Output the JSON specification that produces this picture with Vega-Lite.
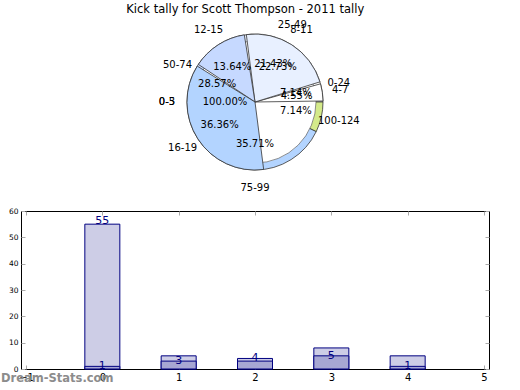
{
  "$schema": "https://vega.github.io/schema/vega-lite/v6.json",
  "background": "white",
  "padding": {"left": 0, "right": 0, "top": 4, "bottom": 0},
  "bounds": "flush",
  "title": {"text": "Kick tally for Scott Thompson - 2011 tally", "fontSize": 11.5, "font": "DejaVu Sans", "fontWeight": "normal", "color": "black", "anchor": "middle", "offset": 4},
  "config": {"view": {"stroke": null}, "font": "DejaVu Sans"},
  "datasets": {
    "set2": [
      {"i": 0, "label": "0-24", "n": 1, "pct": "7.14%"},
      {"i": 1, "label": "25-49", "n": 3, "pct": "21.43%"},
      {"i": 2, "label": "50-74", "n": 4, "pct": "28.57%"},
      {"i": 3, "label": "75-99", "n": 5, "pct": "35.71%"},
      {"i": 4, "label": "100-124", "n": 1, "pct": "7.14%"}
    ],
    "set1": [
      {"i": 0, "label": "4-7", "n": 1, "pct": "4.55%"},
      {"i": 1, "label": "8-11", "n": 5, "pct": "22.73%"},
      {"i": 2, "label": "12-15", "n": 3, "pct": "13.64%"},
      {"i": 3, "label": "16-19", "n": 8, "pct": "36.36%"}
    ],
    "set3": [
      {"label": "0-5", "n": 1, "pct": "100.00%"},
      {"label": "0-3", "n": 1, "pct": "100.00%"}
    ],
    "bars": [
      {"x": 0, "light": 55, "dark": 1, "lab": 1},
      {"x": 1, "light": 5, "dark": 3, "lab": 3},
      {"x": 2, "light": 4, "dark": 3, "lab": 4},
      {"x": 3, "light": 8, "dark": 5, "lab": 5},
      {"x": 4, "light": 5, "dark": 1, "lab": 1}
    ]
  },
  "spacing": 30,
  "vconcat": [
    {
      "width": 468,
      "height": 158,
      "layer": [
        {
          "data": {"name": "set2"},
          "mark": {"type": "arc", "outerRadius": 68, "stroke": "#333333", "strokeWidth": 0.8},
          "encoding": {
            "theta": {"field": "n", "type": "quantitative", "stack": true, "scale": {"domain": [0, 14], "range": [1.5708, -4.7124]}},
            "order": {"field": "i", "type": "quantitative"},
            "color": {"field": "label", "type": "nominal", "legend": null,
              "scale": {"domain": ["0-24", "25-49", "50-74", "75-99", "100-124"], "range": ["#ffffff", "#e8f0ff", "#c6d9ff", "#b3d4ff", "#d4ea8a"]}}
          }
        },
        {
          "data": {"name": "set3"},
          "transform": [{"filter": "datum.label == '0-5'"}],
          "mark": {"type": "arc", "outerRadius": 61, "fill": "#ffffff", "stroke": "#444444", "strokeWidth": 0.6},
          "encoding": {
            "theta": {"field": "n", "type": "quantitative", "stack": true, "scale": {"domain": [0, 1], "range": [1.5708, -4.7124]}}
          }
        },
        {
          "data": {"name": "set1"},
          "mark": {"type": "arc", "outerRadius": 68, "stroke": "#333333", "strokeWidth": 0.8, "padAngle": 0.03},
          "encoding": {
            "theta": {"field": "n", "type": "quantitative", "stack": true, "scale": {"domain": [0, 22], "range": [1.5708, -4.7124]}},
            "order": {"field": "i", "type": "quantitative"},
            "color": {"field": "label", "type": "nominal", "legend": null,
              "scale": {"domain": ["4-7", "8-11", "12-15", "16-19"], "range": ["#ffffff", "#e8f0ff", "#c6d9ff", "#b3d4ff"]}}
          }
        },
        {
          "data": {"name": "set2"},
          "mark": {"type": "text", "radius": 86, "fontSize": 10, "color": "black"},
          "encoding": {
            "theta": {"field": "n", "type": "quantitative", "stack": true, "scale": {"domain": [0, 14], "range": [1.5708, -4.7124]}},
            "order": {"field": "i", "type": "quantitative"},
            "text": {"field": "label"}
          }
        },
        {
          "data": {"name": "set2"},
          "mark": {"type": "text", "radius": 42, "fontSize": 10, "color": "black"},
          "encoding": {
            "theta": {"field": "n", "type": "quantitative", "stack": true, "scale": {"domain": [0, 14], "range": [1.5708, -4.7124]}},
            "order": {"field": "i", "type": "quantitative"},
            "text": {"field": "pct"}
          }
        },
        {
          "data": {"name": "set1"},
          "mark": {"type": "text", "radius": 86, "fontSize": 10, "color": "black"},
          "encoding": {
            "theta": {"field": "n", "type": "quantitative", "stack": true, "scale": {"domain": [0, 22], "range": [1.5708, -4.7124]}},
            "order": {"field": "i", "type": "quantitative"},
            "text": {"field": "label"}
          }
        },
        {
          "data": {"name": "set1"},
          "mark": {"type": "text", "radius": 42, "fontSize": 10, "color": "black"},
          "encoding": {
            "theta": {"field": "n", "type": "quantitative", "stack": true, "scale": {"domain": [0, 22], "range": [1.5708, -4.7124]}},
            "order": {"field": "i", "type": "quantitative"},
            "text": {"field": "pct"}
          }
        },
        {
          "data": {"name": "set3"},
          "mark": {"type": "text", "radius": 88, "fontSize": 10, "color": "black"},
          "encoding": {
            "theta": {"datum": 0.5, "type": "quantitative", "scale": {"domain": [0, 1], "range": [1.5708, -4.7124]}},
            "text": {"field": "label"}
          }
        },
        {
          "data": {"name": "set3"},
          "transform": [{"filter": "datum.label == '0-5'"}],
          "mark": {"type": "text", "radius": 30, "fontSize": 10, "color": "black"},
          "encoding": {
            "theta": {"datum": 0.5, "type": "quantitative", "scale": {"domain": [0, 1], "range": [1.5708, -4.7124]}},
            "text": {"field": "pct"}
          }
        }
      ],
      "resolve": {"scale": {"theta": "independent", "color": "independent"}}
    },
    {
      "width": 468,
      "height": 158,
      "view": {"stroke": "black", "strokeWidth": 1},
      "data": {"name": "bars"},
      "layer": [
        {
          "mark": {"type": "bar", "size": 35, "fill": "#cdcde6", "stroke": "#000080", "strokeWidth": 1},
          "encoding": {
            "x": {"field": "x", "type": "quantitative", "title": null,
              "scale": {"domain": [-1, 5], "nice": false},
              "axis": {"values": [-1, 0, 1, 2, 3, 4, 5], "format": "d", "labelFontSize": 10, "labelColor": "black", "domain": false, "grid": false, "tickColor": "#aaaaaa", "tickSize": -4, "labelPadding": 7, "labelOverlap": false}},
            "y": {"field": "light", "type": "quantitative", "title": null,
              "scale": {"domain": [0, 60], "nice": false},
              "axis": {"values": [0, 10, 20, 30, 40, 50, 60], "labelFontSize": 7.5, "labelColor": "black", "domain": false, "grid": false, "tickColor": "#aaaaaa", "tickSize": -4, "labelPadding": 7, "labelOverlap": false}}
          }
        },
        {
          "mark": {"type": "bar", "size": 35, "opacity": 0},
          "encoding": {
            "x": {"field": "x", "type": "quantitative", "title": null,
              "axis": {"orient": "top", "values": [-1, 0, 1, 2, 3, 4, 5], "labels": false, "domain": false, "grid": false, "tickColor": "#aaaaaa", "tickSize": -4}},
            "y": {"field": "light", "type": "quantitative", "title": null,
              "axis": {"orient": "right", "values": [0, 10, 20, 30, 40, 50, 60], "labels": false, "domain": false, "grid": false, "tickColor": "#aaaaaa", "tickSize": -4}}
          }
        },
        {
          "mark": {"type": "bar", "size": 35, "fill": "#a7a7d3", "stroke": "#000080", "strokeWidth": 1},
          "encoding": {
            "x": {"field": "x", "type": "quantitative", "axis": null},
            "y": {"field": "dark", "type": "quantitative", "axis": null}
          }
        },
        {
          "mark": {"type": "text", "color": "#000080", "fontSize": 11, "baseline": "middle"},
          "encoding": {
            "x": {"field": "x", "type": "quantitative", "axis": null},
            "y": {"field": "lab", "type": "quantitative", "axis": null},
            "text": {"field": "lab"}
          }
        },
        {
          "mark": {"type": "text", "color": "#000080", "fontSize": 11, "baseline": "alphabetic", "dy": 0},
          "transform": [{"filter": "datum.light > 50"}],
          "encoding": {
            "x": {"field": "x", "type": "quantitative", "axis": null},
            "y": {"field": "light", "type": "quantitative", "axis": null},
            "text": {"field": "light"}
          }
        },
        {
          "data": {"values": [{"t": "Dream-Stats.com"}]},
          "mark": {"type": "text", "align": "left", "baseline": "top", "dx": -25, "dy": 4, "fontSize": 11.5, "fontWeight": "bold", "color": "#8c8c8c"},
          "encoding": {
            "x": {"datum": -1, "type": "quantitative", "axis": null},
            "y": {"datum": 0, "type": "quantitative", "axis": null},
            "text": {"field": "t"}
          }
        }
      ],
      "resolve": {"axis": {"x": "independent", "y": "independent"}}
    }
  ]
}
